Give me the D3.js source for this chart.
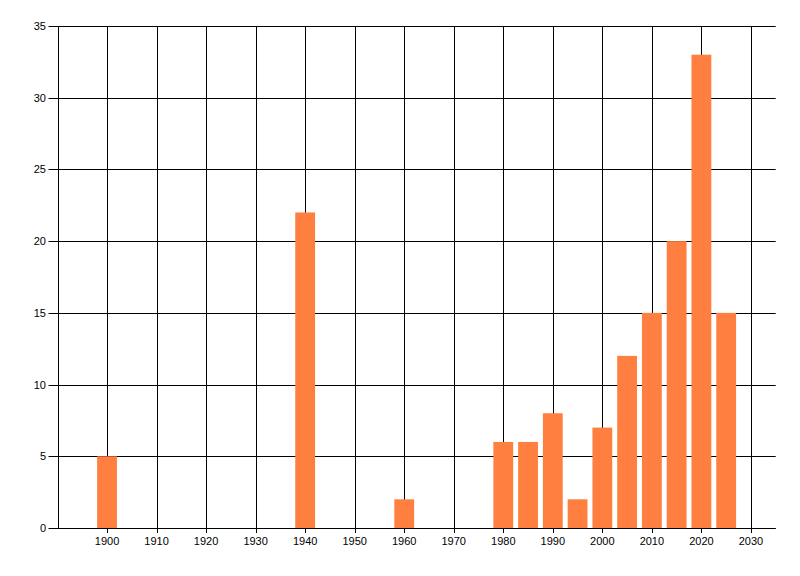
<!DOCTYPE html>
<html>
<head>
<meta charset="utf-8">
<script src="https://cdn.jsdelivr.net/npm/d3@7"></script>
<style>
  body { margin: 0; background: #fff; }
  text { font-family: "Liberation Sans", Arial, sans-serif; font-size: 11px; fill: #000; }
</style>
</head>
<body>
<svg id="chart"></svg>
<script>
const years = [1900, 1940, 1960, 1980, 1985, 1990, 1995, 2000, 2005, 2010, 2015, 2020, 2025];
const counts = [5, 22, 2, 6, 6, 8, 2, 7, 12, 15, 20, 33, 15];
const xTicks = [1900, 1910, 1920, 1930, 1940, 1950, 1960, 1970, 1980, 1990, 2000, 2010, 2020, 2030];
const yTicks = [0, 5, 10, 15, 20, 25, 30, 35];

(() => {
  const width = 800;
  const height = 576;
  const left = 57.5, right = 775.7, top = 26, bottom = 528;

  const x = d3.scaleLinear().domain([1890, 2035]).range([left, right]);
  const y = d3.scaleLinear().domain([0, 35]).range([bottom, top]);

  const svg = d3.select("#chart").attr("width", width).attr("height", height);

  // horizontal grid
  svg.append("g")
    .selectAll("line")
    .data(yTicks)
    .join("line")
    .attr("x1", left - 9)
    .attr("x2", right)
    .attr("y1", (d) => Math.round(y(d)) + 0.5)
    .attr("y2", (d) => Math.round(y(d)) + 0.5)
    .attr("stroke", "#000")
    .attr("stroke-width", 1);

  // vertical grid
  svg.append("g")
    .selectAll("line")
    .data(xTicks)
    .join("line")
    .attr("x1", (d) => Math.round(x(d)) + 0.5)
    .attr("x2", (d) => Math.round(x(d)) + 0.5)
    .attr("y1", top)
    .attr("y2", bottom + 5)
    .attr("stroke", "#000")
    .attr("stroke-width", 1);

  // left axis line
  svg.append("line")
    .attr("x1", Math.round(left) + 0.5)
    .attr("x2", Math.round(left) + 0.5)
    .attr("y1", top)
    .attr("y2", bottom)
    .attr("stroke", "#000");

  // bars
  svg.append("g")
    .selectAll("rect")
    .data(years)
    .join("rect")
    .attr("x", (d) => x(d - 2))
    .attr("width", (d) => x(d + 2) - x(d - 2))
    .attr("y", (d, i) => y(counts[i]))
    .attr("height", (d, i) => y(0) - y(counts[i]))
    .attr("fill", "#ff7f40");

  // bottom axis line on top of bars
  svg.append("line")
    .attr("x1", left)
    .attr("x2", right)
    .attr("y1", Math.round(y(0)) + 0.5)
    .attr("y2", Math.round(y(0)) + 0.5)
    .attr("stroke", "#000");

  svg.append("g")
    .selectAll("text")
    .data(yTicks)
    .join("text")
    .attr("x", 46)
    .attr("y", (d) => y(d) + 4)
    .attr("text-anchor", "end")
    .text((d) => d);

  svg.append("g")
    .selectAll("text")
    .data(xTicks)
    .join("text")
    .attr("x", (d) => x(d))
    .attr("y", 545)
    .attr("text-anchor", "middle")
    .text((d) => d);
})();
</script>
</body>
</html>
